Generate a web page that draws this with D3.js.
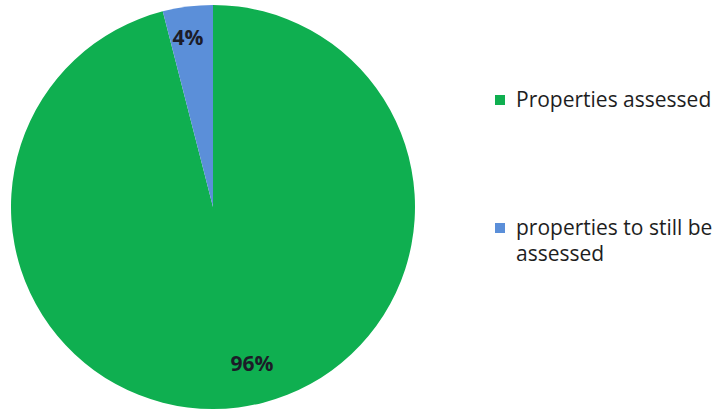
<!DOCTYPE html>
<html><head><meta charset="utf-8">
<script src="https://cdn.jsdelivr.net/npm/d3@7"></script>
<style>body{margin:0;background:#fff}svg{display:block}</style>
</head><body>
<svg id="chart" width="724" height="410"></svg>
<script>
const categories = ["Properties assessed", "properties to still be assessed"];
const values = [96, 4];
const labels = ["96%", "4%"];
const legendLines = [["Properties assessed"], ["properties to still be", "assessed"]];
const colors = ["#0FAF50", "#5B8FD9"];

const svg = d3.select("#chart");
const cx = 213, cy = 207, r = 202;
const data = categories.map((c, i) => ({c, v: values[i], label: labels[i], col: colors[i]}));
const pie = d3.pie().value(d => d.v).sort(null);
const arcs = pie(data);
const arc = d3.arc().innerRadius(0).outerRadius(r);
const g = svg.append("g").attr("transform", `translate(${cx},${cy})`);
g.selectAll("path").data(arcs).join("path").attr("d", arc).attr("fill", d => d.data.col);
g.selectAll("text").data(arcs).join("text")
  .attr("transform", (d, i) => {
    const p = i === 0 ? [39, 156] : [-25, -170];
    return `translate(${p})`;
  })
  .attr("text-anchor", "middle").attr("dominant-baseline", "central")
  .attr("font-family", "Open Sans, sans-serif").attr("font-weight", "bold").attr("font-size", 21)
  .attr("fill", "#1c1c28")
  .text(d => d.data.label);

const lg = svg.append("g");
const ly = [100, 228];
data.forEach((d, i) => {
  lg.append("rect").attr("x", 495).attr("y", ly[i] - 5).attr("width", 10).attr("height", 10).attr("fill", d.col);
  const t = lg.append("text").attr("x", 516).attr("y", ly[i] + 7)
    .attr("font-family", "Open Sans, sans-serif").attr("font-size", 21).attr("fill", "#1e1e1e");
  legendLines[i].forEach((l, j) => t.append("tspan").attr("x", 516).attr("dy", j ? 26 : 0).text(l));
});
</script>
</body></html>
